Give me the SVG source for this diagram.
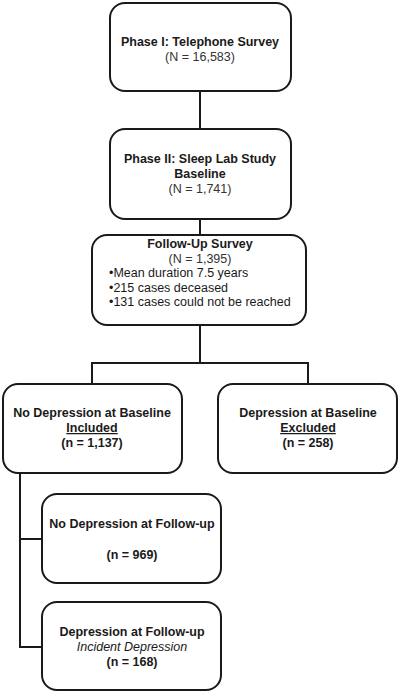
<svg xmlns="http://www.w3.org/2000/svg" width="400" height="693" viewBox="0 0 400 693">
<style>
.box{fill:#fff;stroke:#1a1a1a;stroke-width:2}
.ln{fill:none;stroke:#1a1a1a;stroke-width:2}
text{font-family:"Liberation Sans",Arial,sans-serif;font-size:12.5px;fill:#1a1a1a;text-anchor:middle}
.b{font-weight:bold}
.r{fill:#333}
.l{text-anchor:start}
.i{font-style:italic}
.u{text-decoration:underline}
</style>
<rect width="400" height="693" fill="#fff"/>
<g id="connectors">
<path class="ln" d="M200 91V129"/>
<path class="ln" d="M200 219V235"/>
<path class="ln" d="M200 325V363M92 384V363H308V384"/>
<path class="ln" d="M20 473V647H42M20 539H42"/>
</g>
<g id="n1">
<rect class="box" x="110" y="3" width="181" height="88" rx="15"/>
<text class="b" x="200" y="46">Phase I: Telephone Survey</text>
<text class="r" x="200" y="61">(N = 16,583)</text>
</g>
<g id="n2">
<rect class="box" x="110" y="129" width="181" height="90" rx="15"/>
<text class="b" x="200" y="163">Phase II: Sleep Lab Study</text>
<text class="b" x="200" y="178">Baseline</text>
<text class="r" x="200" y="193">(N = 1,741)</text>
</g>
<g id="n3">
<rect class="box" x="92" y="235" width="214" height="90" rx="15"/>
<text class="b" x="200" y="248">Follow-Up Survey</text>
<text class="r" x="200" y="263">(N = 1,395)</text>
<text class="l" x="109" y="277">•Mean duration 7.5 years</text>
<text class="l" x="109" y="292">•215 cases deceased</text>
<text class="l" x="109" y="306">•131 cases could not be reached</text>
</g>
<g id="n4">
<rect class="box" x="3" y="384" width="179" height="89" rx="15"/>
<text class="b" x="92" y="417">No Depression at Baseline</text>
<text class="b u" x="92" y="432">Included</text>
<text class="b" x="92" y="447">(n = 1,137)</text>
</g>
<g id="n5">
<rect class="box" x="218" y="384" width="179" height="89" rx="15"/>
<text class="b" x="308" y="417">Depression at Baseline</text>
<text class="b u" x="308" y="432">Excluded</text>
<text class="b" x="308" y="447">(n = 258)</text>
</g>
<g id="n6">
<rect class="box" x="42" y="494" width="179" height="89" rx="15"/>
<text class="b" x="132" y="528">No Depression at Follow-up</text>
<text class="b" x="132" y="559">(n = 969)</text>
</g>
<g id="n7">
<rect class="box" x="42" y="602" width="179" height="88" rx="15"/>
<text class="b" x="132" y="636">Depression at Follow-up</text>
<text class="i" x="132" y="651">Incident Depression</text>
<text class="b" x="132" y="666">(n = 168)</text>
</g>
</svg>
